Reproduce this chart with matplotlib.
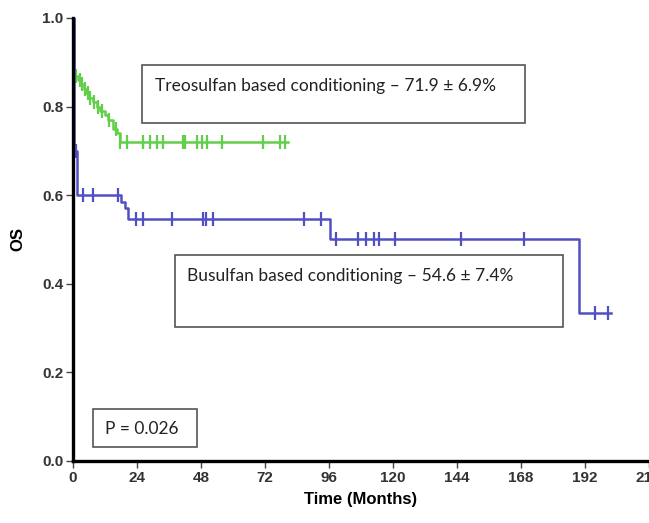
import matplotlib.pyplot as plt
import numpy as np

# Kaplan-Meier step data (months, survival)
treo_t = [0, 0.3, 0.8, 2, 3, 4, 5, 6, 7.5, 9, 10, 12, 13, 15, 16.5, 17.7]
treo_s = [1.0, 0.88, 0.87, 0.86, 0.85, 0.84, 0.83, 0.82, 0.81, 0.80, 0.79, 0.78, 0.77, 0.75, 0.74, 0.72]
treo_end = 80.5
treo_cens_t = [1.2, 2.5, 3.5, 4.5, 5.5, 6.5, 8, 9.5, 11, 13.5, 16, 17.7, 20.3, 26.3, 28.9, 31.6,
               33.8, 41.4, 42.1, 46.6, 48.5, 50.4, 56, 71.4, 77.8, 79.7]

busu_t = [0, 0.4, 1.5, 18, 19.5, 20.5, 96.6, 190]
busu_s = [1.0, 0.70, 0.60, 0.585, 0.57, 0.546, 0.50, 0.333]
busu_end = 202
busu_cens_t = [1.0, 3.8, 7.5, 16.9, 23.7, 26.3, 37, 48.9, 49.9, 52.6, 86.6, 92.9,
               98.5, 107, 110, 112.8, 114.7, 121, 145.5, 169.2, 196, 200.7]

x_ticks = [0, 24, 48, 72, 96, 120, 144, 168, 192, 216]
y_ticks = [0.0, 0.2, 0.4, 0.6, 0.8, 1.0]

green = '#62cf4a'
blue = '#5050c4'


def km_value(times, surv, t):
    idx = np.searchsorted(times, t, side='right') - 1
    return surv[idx]


fig = plt.figure(figsize=(6.49, 5.23), dpi=100)
ax = fig.add_axes([0.1125, 0.1186, 0.887, 0.847])

for times, surv, end, cens, col in [(treo_t, treo_s, treo_end, treo_cens_t, green),
                                    (busu_t, busu_s, busu_end, busu_cens_t, blue)]:
    xs = list(times) + [end]
    ys = list(surv) + [surv[-1]]
    ax.step(xs, ys, where='post', color=col, lw=1.8)
    cy = [km_value(times, surv, c) for c in cens]
    ax.plot(cens, cy, ls='none', marker='|', ms=10, mew=1.6, color=col)

ax.set_xlim(0, 216)
ax.set_ylim(0, 1.0)
ax.set_xticks(x_ticks)
ax.set_yticks(y_ticks)
ax.set_xticklabels([str(v) for v in x_ticks])
ax.set_yticklabels(['%.1f' % v for v in y_ticks])

for lab in ax.get_xticklabels() + ax.get_yticklabels():
    lab.set_fontweight('bold')
    lab.set_fontsize(11)
    lab.set_color('#333333')
    lab.set_family('Liberation Sans')

ax.tick_params(direction='out', length=5, width=1, color='#444444', pad=2)
ax.spines['top'].set_visible(False)
ax.spines['right'].set_visible(False)
ax.spines['left'].set_linewidth(2.4)
ax.spines['bottom'].set_linewidth(2.4)

ax.set_xlabel('Time (Months)', fontsize=12, fontweight='bold', family='Liberation Sans', labelpad=5)
ax.set_ylabel('OS', fontsize=12, fontweight='bold', family='Liberation Sans', labelpad=12)

box_font = dict(family='Lato', fontsize=12.5, color='#222222')

# Boxes in figure pixel coordinates (top-left origin)
def fig_box(x0, y0, x1, y1):
    W, H = 649, 523
    r = plt.Rectangle((x0 / W, 1 - y1 / H), (x1 - x0) / W, (y1 - y0) / H,
                      transform=fig.transFigure, fill=False, ec='#555555', lw=1.2)
    fig.add_artist(r)

fig_box(142, 65, 525, 123)
fig.text(155 / 649, 1 - 86 / 523, 'Treosulfan based conditioning – 71.9 ± 6.9%', va='center', **box_font)

fig_box(175, 255, 563, 327)
fig.text(187 / 649, 1 - 276 / 523, 'Busulfan based conditioning – 54.6 ± 7.4%', va='center', **box_font)

fig_box(93, 409, 197, 447)
fig.text(105 / 649, 1 - 429 / 523, 'P = 0.026', va='center', **box_font)

fig.savefig('out.png', dpi=100)
